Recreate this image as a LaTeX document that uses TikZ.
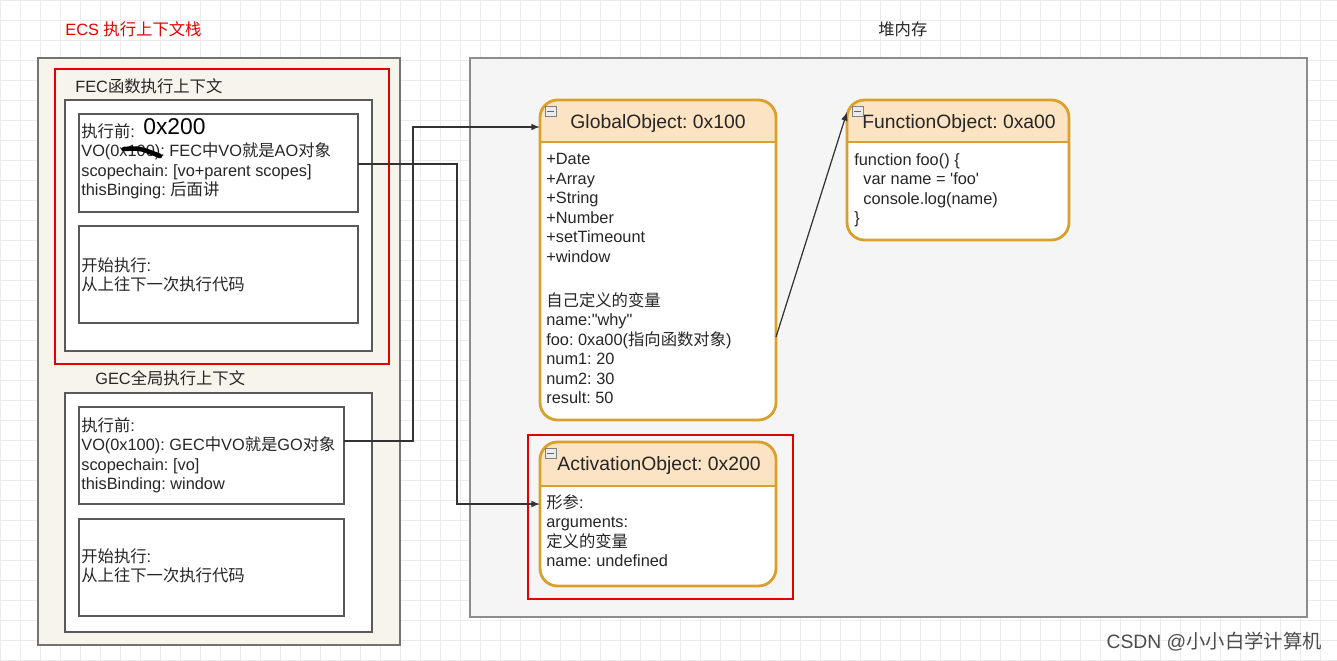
\documentclass[tikz,border=0pt]{standalone}
\usepackage{fontspec}
\setmainfont{Liberation Sans}
\newfontfamily\cjk{Noto Sans CJK SC}
\newcommand{\zh}[1]{{\cjk #1}}
\definecolor{gold}{HTML}{D9A12B}
\definecolor{hdrc}{HTML}{FCE3C3}
\definecolor{beige}{HTML}{F7F4EC}
\frenchspacing
\begin{document}
\begin{tikzpicture}[x=0.02cm,y=-0.02cm,
  every node/.style={font=\fontsize{9.3}{11.1}\selectfont,text=black!85},
  txt/.style={anchor=north west,inner sep=0pt,align=left},
  plain/.style={draw=black!65,line width=0.8pt,fill=white},
  obj/.style={draw=gold,line width=1.6pt,rounded corners=10pt},
  hdr/.style={fill=hdrc},
  ttl/.style={font=\fontsize{11}{13}\selectfont},
  redbox/.style={draw=red!90!black,line width=1pt},
  conn/.style={draw=black!80,line width=0.7pt,-latex}]
\useasboundingbox (0,0) rectangle (1337,660);
\fill[white] (0,0) rectangle (1337,660);
\foreach \i in {0,20,...,1320} {\draw[black!8] (\i,0) -- (\i,660);}
\foreach \j in {0,20,...,660} {\draw[black!8] (0,\j) -- (1337,\j);}
% panels
\draw[fill=beige,draw=black!55,line width=0.8pt] (38,58) rectangle (400,645);
\draw[fill=black!4,draw=black!45,line width=0.8pt] (470,58) rectangle (1307,617);
\node[txt,text=red!90!black] at (65,21) {ECS \zh{执行上下文栈}};
\node[txt] at (878,21) {\zh{堆内存}};
% FEC
\draw[redbox] (55,69) rectangle (389,364);
\node[txt] (fect) at (75,78) {FEC\zh{函数执行上下文}};
\draw[plain] (65,100) rectangle (372,351);
\draw[plain] (79,114) rectangle (358,212);
\coordinate (fecR) at (358,164);
\node[txt] (fec1) at (81,123) {\zh{执行前}:\\VO(0x100): FEC\zh{中}VO\zh{就是}AO\zh{对象}\\scopechain: [vo+parent scopes]\\thisBinging: \zh{后面讲}};
\node[txt,font=\fontsize{13}{15}\selectfont,text=black] (ox) at (143,118) {0x200};
\draw[black,line width=2.6pt,line cap=round] (124,149) .. controls (140,148) .. (160,156);
\draw[plain] (79,226) rectangle (358,323);
\node[txt] (fec2) at (81,257) {\zh{开始执行}:\\\zh{从上往下一次执行代码}};
% GEC
\node[txt] (gect) at (95,370) {GEC\zh{全局执行上下文}};
\draw[plain] (65,393) rectangle (372,632);
\draw[plain] (79,407) rectangle (344,504);
\node[txt] (gec1) at (81,417) {\zh{执行前}:\\VO(0x100): GEC\zh{中}VO\zh{就是}GO\zh{对象}\\scopechain: [vo]\\thisBinding: window};
\coordinate (gecR) at (344,441);
\draw[plain] (79,519) rectangle (344,616);
\node[txt] (gec2) at (81,548) {\zh{开始执行}:\\\zh{从上往下一次执行代码}};
% GlobalObject
\fill[white,rounded corners=10pt] (540,100) rectangle (776,420);
\fill[hdr,rounded corners=10pt] (540,100) rectangle (776,142);
\fill[hdr] (541,122) rectangle (775,142);
\draw[obj] (540,100) rectangle (776,420);
\draw[gold,line width=1.4pt] (540,142) -- (776,142);
\node[ttl] (go) at (658,123) {GlobalObject: 0x100};
\draw[black!50,fill=black!8] (545,106) rectangle (556,116); \draw[black!60] (547,111)--(554,111);
\node[txt] (gob) at (546,153) {+Date\\+Array\\+String\\+Number\\+setTimeount\\+window};
\node[txt] (gov) at (546,292) {\zh{自己定义的变量}\\name:\textquotedbl why\textquotedbl\\foo: 0xa00(\zh{指向函数对象})\\num1: 20\\num2: 30\\result: 50};
\coordinate (goL) at (540,127);
\coordinate (goR) at (776,337);
% FunctionObject
\fill[white,rounded corners=10pt] (847,100) rectangle (1069,240);
\fill[hdr,rounded corners=10pt] (847,100) rectangle (1069,142);
\fill[hdr] (848,122) rectangle (1068,142);
\draw[obj] (847,100) rectangle (1069,240);
\draw[gold,line width=1.4pt] (847,142) -- (1069,142);
\node[ttl] (fo) at (959,123) {FunctionObject: 0xa00};
\draw[black!50,fill=black!8] (852,106) rectangle (863,116); \draw[black!60] (854,111)--(861,111);
\node[txt] (fob) at (854,153) {function foo() \{\\\ \ var name = \textquotesingle foo\textquotesingle\\\ \ console.log(name)\\\}};
\coordinate (foL) at (847,112);
% ActivationObject
\draw[redbox] (528,435) rectangle (793,599);
\fill[white,rounded corners=10pt] (540,442) rectangle (776,586);
\fill[hdr,rounded corners=10pt] (540,442) rectangle (776,486);
\fill[hdr] (541,466) rectangle (775,486);
\draw[obj] (540,442) rectangle (776,586);
\draw[gold,line width=1.4pt] (540,486) -- (776,486);
\node[ttl] (ao) at (659,465) {ActivationObject: 0x200};
\draw[black!50,fill=black!8] (545,448) rectangle (556,458); \draw[black!60] (547,453)--(554,453);
\node[txt] (aob) at (546,494) {\zh{形参}:\\arguments:\\\zh{定义的变量}\\name: undefined};
\coordinate (aoL) at (540,504);
% connectors
\draw[conn] (gecR) -- (413,441) -- (413,127) -- (goL);
\draw[conn] (fecR) -- (457,164) -- (457,504) -- (aoL);
\draw[conn] (goR) -- (foL);
\node[anchor=south east,inner sep=0pt,font=\fontsize{11}{13}\selectfont,text=black!70] (wm) at (1322,652) {CSDN @\zh{小小白学计算机}};
\end{tikzpicture}
\end{document}
